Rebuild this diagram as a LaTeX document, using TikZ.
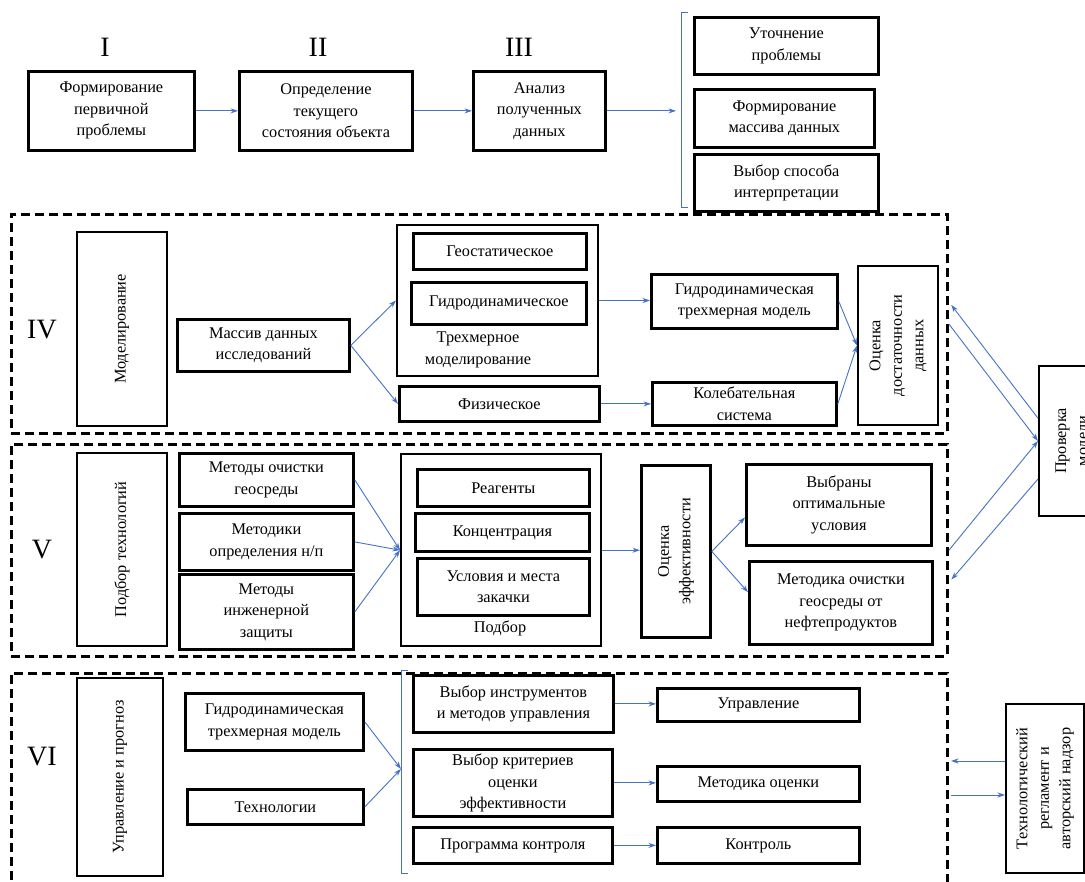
\documentclass[tikz,border=0pt]{standalone}
\usepackage{fontspec}
\setmainfont{Liberation Serif}
\usetikzlibrary{calc}
\usetikzlibrary{arrows.meta}
\definecolor{linkblue}{RGB}{68,114,196}
\tikzset{
   txt/.style={font=\fontsize{16.3}{21.5}\selectfont},
   box/.style={draw=black, line width=2.8pt, align=center, inner sep=0pt,
      anchor=north west, txt},
   thinbox/.style={box, line width=2pt},
   stage/.style={draw=black, line width=2.8pt, dash pattern=on 9pt off 5pt,
      anchor=north west, inner sep=0pt},
   numeral/.style={font=\fontsize{28}{30}\selectfont},
   vtext/.style={rotate=90, align=center, txt},
   link/.style={draw=linkblue, line width=0.9pt, -{Stealth[length=7.5pt,width=5pt]}},
   bracket/.style={draw=linkblue, line width=1pt},
}

\begin{document}
\begin{tikzpicture}[x=1pt, y=-1pt]
   \useasboundingbox (0,0) rectangle (1085,882);
   \clip (0,0) rectangle (1085,882);

   % stages I - III
   \node[numeral] (numI) at (105,47) {I};
   \node[numeral] (numII) at (318,47) {II};
   \node[numeral] (numIII) at (519,47) {III};
   \node[box, minimum width=166pt, minimum height=79pt] (form) at (27,70) {Формирование\\первичной\\проблемы};
   \node[box, minimum width=173pt, minimum height=79pt] (opred) at (238,70) {Определение\\текущего\\состояния объекта};
   \node[box, minimum width=132pt, minimum height=79pt] (anal) at (472,70) {Анализ\\полученных\\данных};
   \node[box, minimum width=184pt, minimum height=57pt] (utoch) at (693,16) {Уточнение\\проблемы};
   \node[box, minimum width=180pt, minimum height=58pt] (massiv) at (693,88) {Формирование\\массива данных};
   \node[box, minimum width=184pt, minimum height=57pt] (sposob) at (693,153) {Выбор способа\\интерпретации};
   \coordinate (brtop) at (681,13);
   \coordinate (brbot) at (681,208);
   \draw[bracket] ([xshift=7pt]brtop) -- (brtop) -- (brbot) -- ([xshift=7pt]brbot);
   \draw[link] (form.east) -- (opred.west);
   \draw[link] (opred.east) -- (anal.west);
   \draw[link] (anal.east) -- ([xshift=-5pt]brtop |- anal.east);

   % stage IV
   \node[stage, minimum width=936pt, minimum height=219pt] (stIV) at (10,213) {};
   \node[numeral] (numIV) at (42,330) {IV};
   \node[thinbox, minimum width=90pt, minimum height=194pt] (model) at (76,231) {};
   \node[vtext] (modelt) at (model.center) {Моделирование};
   \node[box, minimum width=172pt, minimum height=52pt] (dannye) at (176,318) {Массив данных\\исследований};
   \node[thinbox, minimum width=201pt, minimum height=151pt] (trehm) at (396,224) {};
   \node[box, minimum width=173pt, minimum height=36pt] (geo) at (412,232) {Геостатическое};
   \node[box, minimum width=175pt, minimum height=42pt] (gidro) at (410,281) {Гидродинамическое};
   \node[txt, align=center] (trehmt) at (478,350) {Трехмерное\\моделирование};
   \node[box, minimum width=200pt, minimum height=35pt] (fiz) at (398,385) {Физическое};
   \node[box, minimum width=186pt, minimum height=54pt] (gmodel) at (650,273) {Гидродинамическая\\трехмерная модель};
   \node[box, minimum width=184pt, minimum height=43pt] (koleb) at (651,381) {Колебательная\\система};
   \node[thinbox, minimum width=80pt, minimum height=159pt] (dostat) at (857,265) {};
   \node[vtext] (dostatt) at (dostat.center) {Оценка\\достаточности\\данных};
   \draw[link] (dannye.east) -- (trehm.west);
   \draw[link] (dannye.east) -- (fiz.west);
   \draw[link] (trehm.east) -- (trehm.east -| gmodel.west);
   \draw[link] (fiz.east) -- (fiz.east -| koleb.west);
   \draw[link] (gmodel.east) -- (dostat.west);
   \draw[link] (koleb.east) -- (dostat.west);

   % stage V
   \node[stage, minimum width=936pt, minimum height=212pt] (stV) at (10,443) {};
   \node[numeral] (numV) at (42,550) {V};
   \node[thinbox, minimum width=90pt, minimum height=193pt] (tehn) at (76,452) {};
   \node[vtext] (tehnt) at (tehn.center) {Подбор технологий};
   \node[box, minimum width=174pt, minimum height=53pt] (ochist) at (178,452) {Методы очистки\\геосреды};
   \node[box, minimum width=174pt, minimum height=57pt] (opredn) at (178,512) {Методики\\определения н/п};
   \node[box, minimum width=174pt, minimum height=75pt] (zashch) at (178,573) {Методы\\инженерной\\защиты};
   \node[box, line width=2.4pt, minimum width=200pt, minimum height=192pt] (podbor) at (400,453) {};
   \node[box, minimum width=172pt, minimum height=37pt] (reag) at (416,468) {Реагенты};
   \node[box, minimum width=174pt, minimum height=38pt] (konc) at (414,512) {Концентрация};
   \node[box, minimum width=172pt, minimum height=57pt] (zakach) at (416,557) {Условия и места\\закачки};
   \node[txt] (podbort) at (500,628) {Подбор};
   \node[box, minimum width=69pt, minimum height=172pt] (effekt) at (640,464) {};
   \node[vtext] (effektt) at (effekt.center) {Оценка\\эффективности};
   \node[box, minimum width=185pt, minimum height=81pt] (optim) at (745,463) {Выбраны\\оптимальные\\условия};
   \node[box, minimum width=183pt, minimum height=83pt] (metod) at (748,560) {Методика очистки\\геосреды от\\нефтепродуктов};
   \draw[link] (ochist.east) -- (podbor.west);
   \draw[link] (opredn.east) -- (podbor.west);
   \draw[link] (zashch.east) -- (podbor.west);
   \draw[link] (podbor.east) -- (podbor.east -| effekt.west);
   \draw[link] (effekt.east) -- ($(optim.west)!0.3!(optim.south west)$);
   \draw[link] (effekt.east) -- ($(metod.west)!0.25!(metod.north west)$);

   % model check
   \node[thinbox, minimum width=68pt, minimum height=150pt] (prov) at (1038,365) {};
   \node[vtext] (provt) at (prov.center) {Проверка\\модели};
   \draw[link, shorten >=4pt] ($(prov.west)!0.3!(prov.north west)$) -- ($(stIV.east)!0.2!(stIV.north east)$);
   \draw[link] (stIV.east) -- (prov.west);
   \draw[link] (stV.east) -- (prov.west);
   \draw[link, shorten >=4pt] ($(prov.west)!0.5!(prov.south west)$) -- ($(stV.east)!0.3!(stV.south east)$);

   % stage VI
   \node[stage, minimum width=936pt, minimum height=240pt] (stVI) at (10,672) {};
   \node[numeral] (numVI) at (42,757) {VI};
   \node[thinbox, minimum width=86pt, minimum height=198pt] (prognoz) at (76,677) {};
   \node[vtext] (prognozt) at (prognoz.center) {Управление и прогноз};
   \node[box, minimum width=178pt, minimum height=57pt] (gmodel2) at (184,692) {Гидродинамическая\\трехмерная модель};
   \node[box, minimum width=176pt, minimum height=35pt] (tehnol) at (186,788) {Технологии};
   \coordinate (br2top) at (401,670);
   \coordinate (br2bot) at (401,873);
   \coordinate (br2mid) at (401,769);
   \draw[bracket] ([xshift=7pt]br2top) -- (br2top) -- (br2bot) -- ([xshift=7pt]br2bot);
   \node[box, minimum width=200pt, minimum height=57pt] (instr) at (412,674) {Выбор инструментов\\и методов управления};
   \node[box, minimum width=199pt, minimum height=67pt] (krit) at (412,748) {Выбор критериев\\оценки\\эффективности};
   \node[box, minimum width=199pt, minimum height=36pt] (progr) at (412,826) {Программа контроля};
   \node[box, minimum width=202pt, minimum height=33pt] (uprav) at (656,687) {Управление};
   \node[box, minimum width=202pt, minimum height=35pt] (ocenka) at (656,765) {Методика оценки};
   \node[box, minimum width=202pt, minimum height=36pt] (kontrol) at (656,826) {Контроль};
   \node[thinbox, minimum width=78pt, minimum height=169pt] (reglam) at (1005,703) {};
   \node[vtext] (reglamt) at (reglam.center) {Технологический\\регламент и\\авторский надзор};
   \coordinate (vi1) at (951,761);
   \coordinate (vi2) at (951,795);
   \draw[link] (gmodel2.east) -- (br2mid);
   \draw[link] (tehnol.east) -- (br2mid);
   \draw[link] (instr.east) -- (instr.east -| uprav.west);
   \draw[link] (krit.east) -- (krit.east -| ocenka.west);
   \draw[link] (progr.east) -- (progr.east -| kontrol.west);
   \draw[link] (reglam.west |- vi1) -- (vi1);
   \draw[link] (vi2) -- (reglam.west |- vi2);
\end{tikzpicture}
\end{document}
